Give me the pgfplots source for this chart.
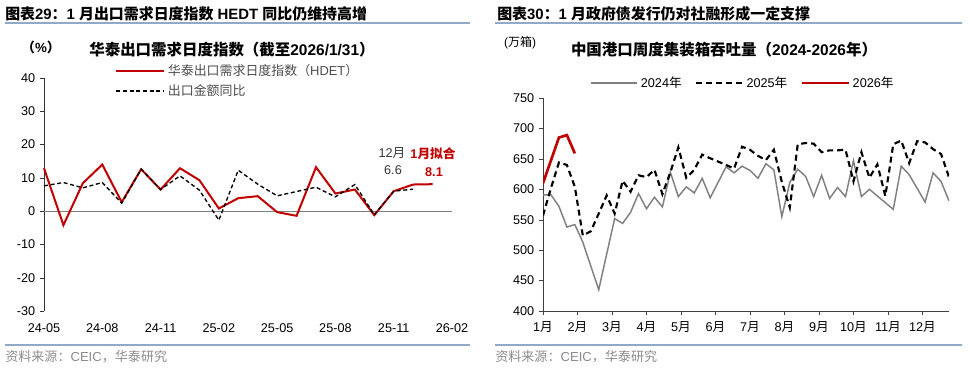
\documentclass[border=0pt]{standalone}
\usepackage{pgfplots}
\pgfplotsset{compat=1.18}
\usepackage{fontspec}
\setmainfont{Liberation Sans}
\newfontfamily\cjk{Noto Sans CJK SC}
\definecolor{hred}{HTML}{C00000}
\definecolor{lineblue}{HTML}{8FAAC8}
\definecolor{srcgray}{HTML}{8C8C8C}
\definecolor{g24}{HTML}{808080}
\begin{document}
\begin{tikzpicture}[x=0.75pt,y=-0.75pt]
\path[use as bounding box] (0,0) rectangle (970,368);
% ---------- left panel frame ----------
\node[anchor=west,inner sep=0pt,font=\bfseries\fontsize{11.2}{13}\selectfont] at (5,14) {{\cjk 图表}29{\cjk ：}1 {\cjk 月出口需求日度指数} HEDT {\cjk 同比仍维持高增}};
\draw[lineblue, line width=1pt] (5,23) -- (470,23);
\draw[lineblue, line width=1pt] (5,345) -- (470,345);
\node[anchor=west,inner sep=0pt,srcgray,font=\fontsize{9.8}{11}\selectfont] at (5,357) {{\cjk 资料来源：}CEIC{\cjk ，华泰研究}};
\node[font=\bfseries\fontsize{10}{12}\selectfont] at (41,47) {{\cjk （}\%{\cjk ）}};
\node[font=\bfseries\fontsize{11.6}{13}\selectfont] at (232,50) {{\cjk 华泰出口需求日度指数（截至}2026/1/31{\cjk ）}};
\node[font=\fontsize{9.5}{11}\selectfont, text=black!80] at (392,153) {12{\cjk 月}};
\node[font=\fontsize{9.5}{11}\selectfont, text=black!80] at (393,170) {6.6};
\node[font=\bfseries\fontsize{9.5}{11}\selectfont, text=hred] at (433,154) {1{\cjk 月拟合}};
\node[font=\bfseries\fontsize{9.5}{11}\selectfont, text=hred] at (434,172) {8.1};
% ---------- right panel frame ----------
\node[anchor=west,inner sep=0pt,font=\bfseries\fontsize{11.2}{13}\selectfont] at (497,14) {{\cjk 图表}30{\cjk ：}1 {\cjk 月政府债发行仍对社融形成一定支撑}};
\draw[lineblue, line width=1pt] (495,23) -- (962,23);
\draw[lineblue, line width=1pt] (495,345) -- (962,345);
\node[anchor=west,inner sep=0pt,srcgray,font=\fontsize{9.8}{11}\selectfont] at (495,357) {{\cjk 资料来源：}CEIC{\cjk ，华泰研究}};
\node[font=\fontsize{9}{11}\selectfont] at (520,43) {({\cjk 万箱})};
\node[font=\bfseries\fontsize{11.6}{13}\selectfont] at (724,50) {{\cjk 中国港口周度集装箱吞吐量（}2024-2026{\cjk 年）}};
% ---------- left axis ----------
\begin{axis}[at={(33pt,-233.25pt)}, anchor=south west, scale only axis,
  width=306pt, height=174.75pt,
  xmin=0, xmax=21, ymin=-30, ymax=40,
  axis x line=bottom, axis y line=left,
  x axis line style={draw=none},
  y axis line style={-, black!80},
  tick align=outside, major tick length=3pt,
  x tick style={draw=none}, y tick style={black!80},
  xtick={0,3,...,21},
  xticklabels={24-05,24-08,24-11,25-02,25-05,25-08,25-11,26-02},
  ytick={-30,-20,...,40},
  tick label style={font=\fontsize{9.5}{11}\selectfont},
  xticklabel style={yshift=-3pt},
  /pgf/number format/assume math mode=true,
  clip=false,
  legend style={draw=none, fill=none, at={(0.174,1.07)}, anchor=north west,
    font=\fontsize{9.7}{11}\selectfont, text=black!70, row sep=1pt, inner sep=0pt},
  legend cell align=left,
  legend image code/.code={\draw[#1] (0pt,0pt) -- (36pt,0pt);},
]
\addplot[gray, line width=0.8pt, forget plot] coordinates {(0,0) (21,0)};
\addplot[hred, line width=1.5pt] coordinates {
(0,12.9) (1,-4.2) (2,8.4) (3,14.0) (4,2.7) (5,12.6) (6,6.5) (7,12.9) (8,9.3) (9,0.8)
(10,3.9) (11,4.5) (12,-0.3) (13,-1.4) (14,13.2) (15,5.3) (16,6.5) (17,-1.2) (18,6.0)
(19,8.0) (20,8.1)};
\addlegendentry{{\cjk 华泰出口需求日度指数（}HDET{\cjk ）}}
\addplot[black, line width=1pt, dash pattern=on 3pt off 2pt] coordinates {
(0,7.6) (1,8.6) (2,7.0) (3,8.6) (4,2.4) (5,12.6) (6,6.5) (7,10.6) (8,6.3) (9,-2.7)
(10,12.3) (11,8.1) (12,4.6) (13,5.9) (14,7.2) (15,4.3) (16,8.0) (17,-1.1) (18,6.0) (19,6.6)};
\addlegendentry{{\cjk 出口金额同比}}
\end{axis}
% ---------- right axis ----------
\begin{axis}[at={(407.25pt,-233.25pt)}, anchor=south west, scale only axis,
  width=304.5pt, height=159.75pt,
  xmin=0, xmax=51, ymin=400, ymax=750,
  axis x line=bottom, axis y line=left,
  axis line style={-, black!75},
  tick align=outside, major tick length=3pt,
  tick style={black!75},
  xtick={0,4.333,8.667,13,17.333,21.667,26,30.333,34.667,39,43.333,47.667},
  xticklabels={1{\cjk 月},2{\cjk 月},3{\cjk 月},4{\cjk 月},5{\cjk 月},6{\cjk 月},7{\cjk 月},8{\cjk 月},9{\cjk 月},10{\cjk 月},11{\cjk 月},12{\cjk 月}},
  ytick={400,450,...,750},
  tick label style={font=\fontsize{9.5}{11}\selectfont},
  xticklabel style={yshift=-1.5pt},
  /pgf/number format/assume math mode=true,
  legend columns=3,
  legend style={draw=none, fill=none, at={(0.493,1.07)}, anchor=center,
    font=\fontsize{9.5}{11}\selectfont, inner sep=0pt,
    /tikz/every even column/.append style={column sep=8pt}},
  legend image code/.code={\draw[#1] (0pt,0pt) -- (35pt,0pt);},
]
\addplot[g24, line width=1.1pt] coordinates {
(0,591) (1,591) (2,572) (3,538) (4,542) (5,513) (7,435) (9,552) (10,544) (11,562)
(12,593) (13,568) (14,587) (15,571) (16,628) (17,588) (18,604) (19,594) (20,618) (21,586)
(23,637) (24,627) (25,638) (26,631) (27,618) (28,642) (29,632) (30,555) (31,611) (32,633)
(33,621) (34,588) (35,623) (36,585) (37,603) (38,588) (39,647) (40,588) (41,600) (44,567)
(45,638) (46,624) (48,579) (49,627) (50,613) (51,581)};
\addlegendentry{2024{\cjk 年}}
\addplot[black, line width=1.6pt, dash pattern=on 4.5pt off 3pt] coordinates {
(0,557) (1,602) (2,644) (3,640) (4,604) (5,524) (6,531) (7,560) (8,590) (9,560)
(10,614) (11,596) (12,623) (13,620) (14,632) (15,592) (16,628) (17,669) (18,619) (19,632)
(20,657) (21,651) (23,640) (24,634) (25,670) (26,665) (27,655) (28,648) (29,665) (30,612)
(31,570) (32,674) (33,676) (34,675) (35,661) (36,664) (37,664) (38,665) (39,613) (40,661)
(41,619) (42,641) (43,589) (44,674) (45,680) (46,643) (47,679) (48,677) (49,666) (50,658)
(51,620)};
\addlegendentry{2025{\cjk 年}}
\addplot[hred, line width=2pt] coordinates {(0,610) (2,685) (3,689) (4,659)};
\addlegendentry{2026{\cjk 年}}
\end{axis}
\end{tikzpicture}
\end{document}
